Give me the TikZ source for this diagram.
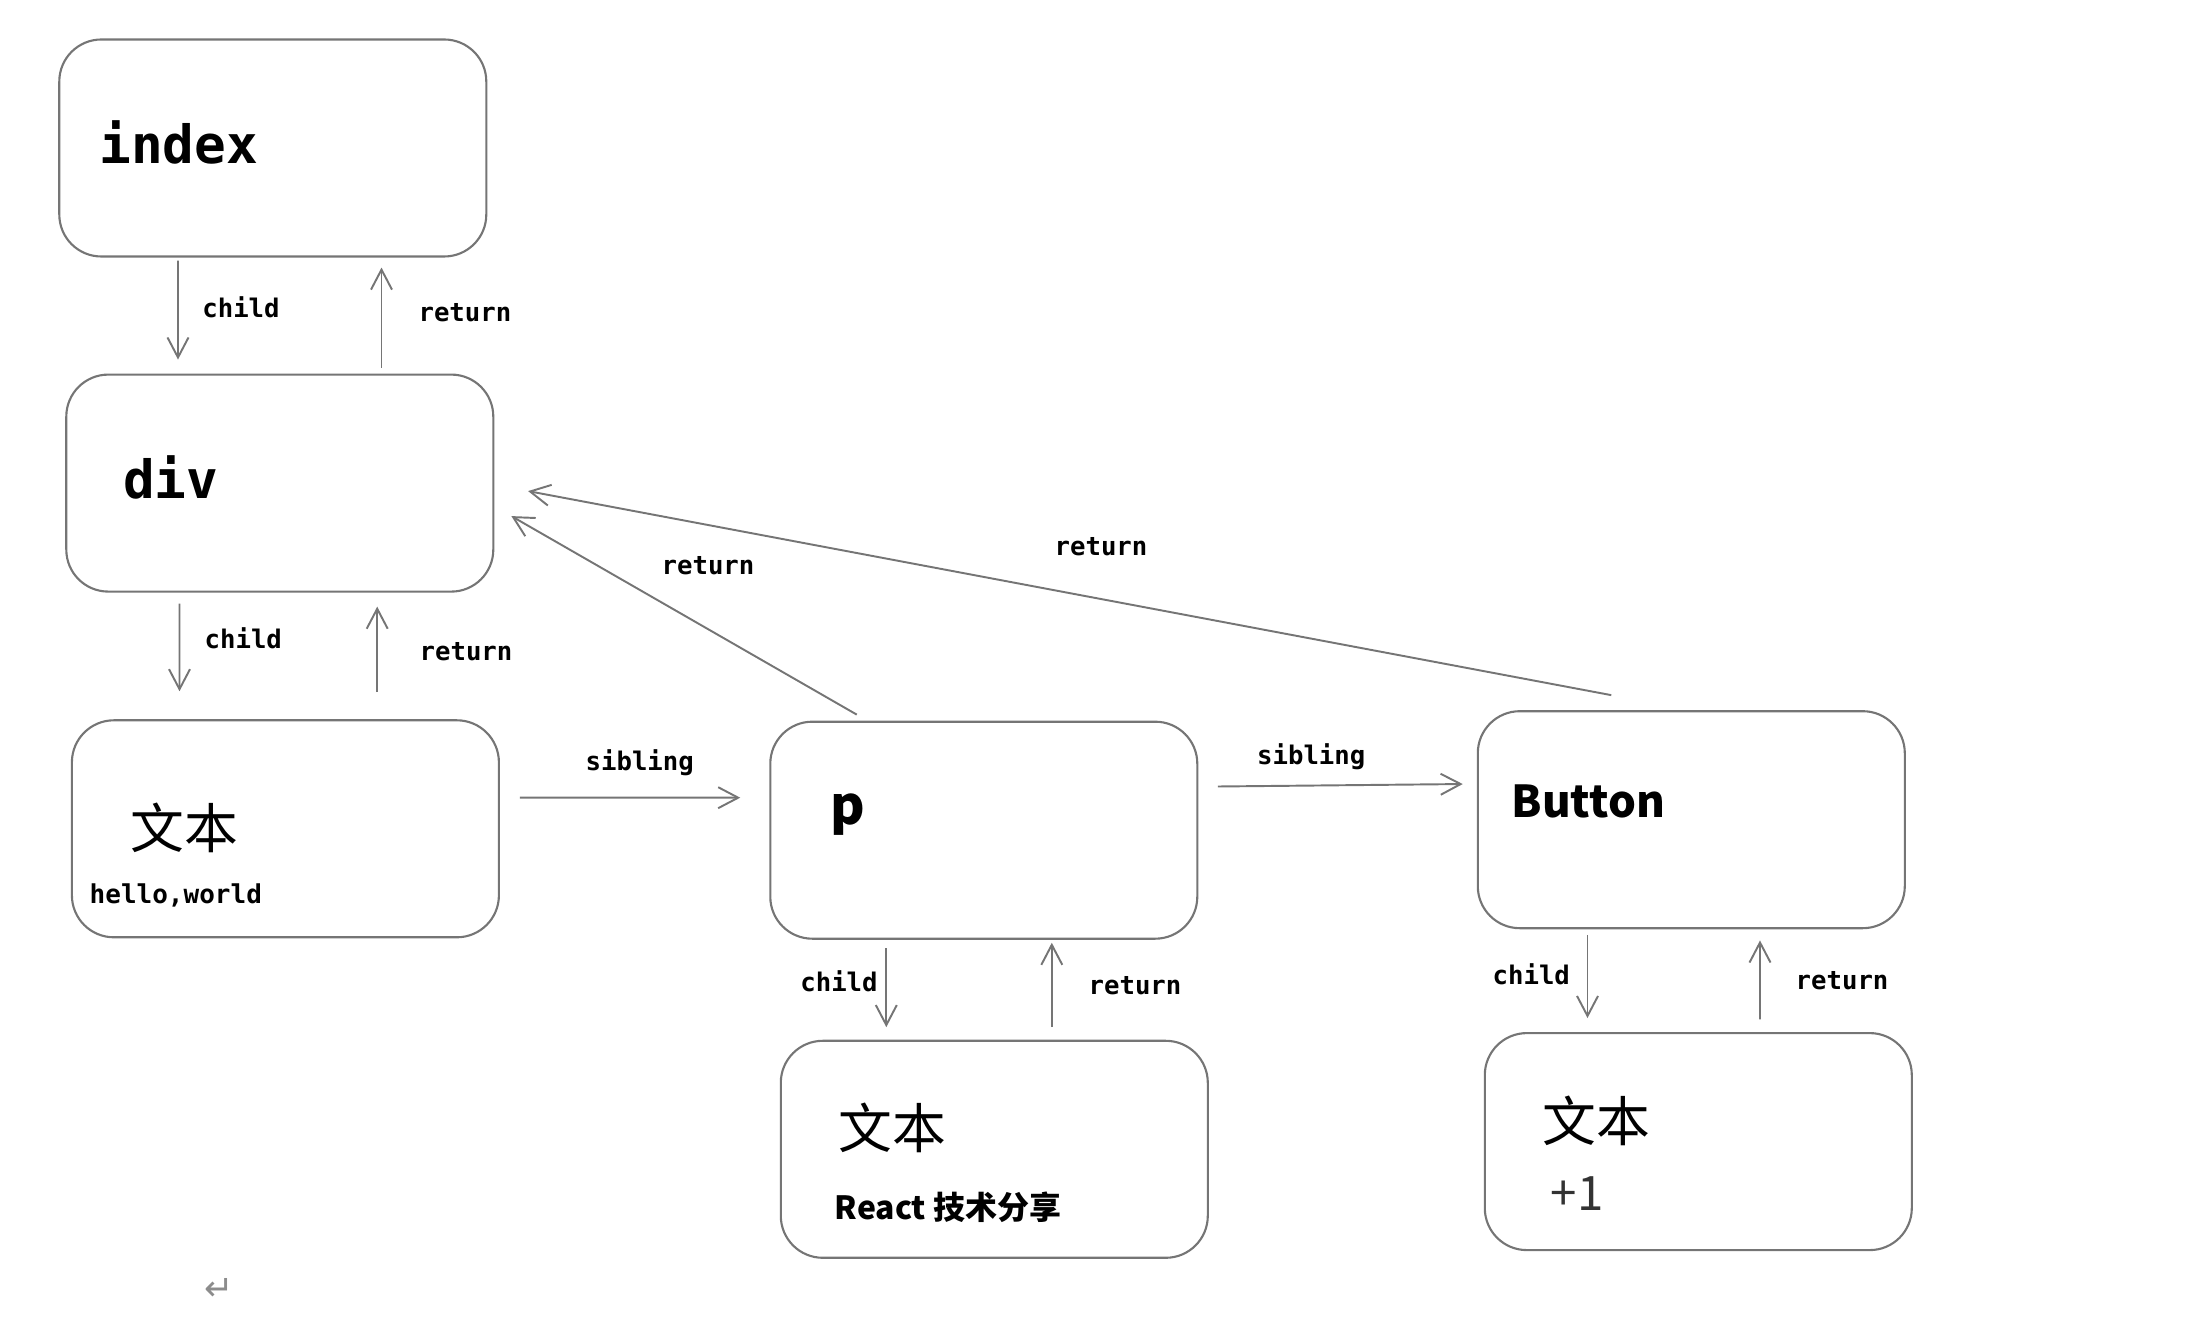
\documentclass[tikz,border=0pt]{standalone}
\usepackage{fontspec}
\usetikzlibrary{arrows.meta}
\newfontfamily\monofnt{DejaVu Sans Mono}
\newfontfamily\cjkfnt{Noto Sans CJK SC}
\newfontfamily\symfnt{DejaVu Sans}
\definecolor{edgegray}{HTML}{757575}

\begin{document}
\begin{tikzpicture}[
    fiber/.style={draw=edgegray, line width=0.6pt, rounded corners=0.42cm, minimum width=4.27cm, minimum height=2.17cm, inner sep=0pt},
    link/.style={draw=edgegray, line width=0.55pt, -{Straight Barb[length=2mm,width=2.1mm]}},
    lbl/.style={anchor=base west, inner sep=0pt, font=\monofnt\bfseries\fontsize{7.3}{8}\selectfont},
    tag/.style={anchor=base west, inner sep=0pt, font=\monofnt\bfseries\fontsize{15}{18}\selectfont},
    han/.style={anchor=west, inner sep=0pt, font=\cjkfnt\fontsize{15.3}{18}\selectfont}]
    \useasboundingbox (0,0) rectangle (21.99,-13.23);
    \node[fiber] (index) at (2.728,-1.480) {};
    \node[fiber] (div) at (2.798,-4.831) {};
    \node[fiber] (hello) at (2.854,-8.288) {};
    \node[fiber] (p) at (9.838,-8.302) {};
    \node[fiber] (button) at (16.913,-8.197) {};
    \node[fiber] (react) at (9.943,-11.493) {};
    \node[fiber] (plus) at (16.983,-11.416) {};
    \node[tag] (indextxt) at (0.987,-1.638) {index};
    \node[tag] (divtxt) at (1.225,-4.987) {div};
    \node[han] (hellohan) at (1.30,-8.28) {文本};
    \node[lbl, font=\monofnt\bfseries\fontsize{7.4}{8}\selectfont] (hellotxt) at (0.89,-9.035) {hello,world};
    \node[anchor=base west, inner sep=0pt, font=\cjkfnt\bfseries\fontsize{15}{18}\selectfont] (ptxt) at (8.30,-8.25) {p};
    \node[anchor=base west, inner sep=0pt, font=\cjkfnt\bfseries\fontsize{12.5}{15}\selectfont] (buttontxt) at (15.11,-8.18) {Button};
    \node[han] (reacthan) at (8.38,-11.28) {文本};
    \node[anchor=base west, inner sep=0pt, font=\cjkfnt\bfseries\fontsize{9.1}{12}\selectfont] (reacttxt) at (8.34,-12.197) {React 技术分享};
    \node[han] (plushan) at (15.42,-11.21) {文本};
    \node[anchor=base west, inner sep=0pt, text=black!80, font=\cjkfnt\fontsize{13.5}{16}\selectfont] (plustxt) at (15.50,-12.105) {+1};
    \draw[link, shorten <=0.03cm, shorten >=0.14cm] ([xshift=-0.948cm]index.south) -- ([xshift=-1.018cm]div.north);
    \draw[link, shorten <=0.06cm, shorten >=0.10cm] ([xshift=1.017cm]div.north) -- ([xshift=1.087cm]index.south);
    \draw[link, shorten <=0.11cm, shorten >=0.28cm] ([xshift=-1.003cm]div.south) -- ([xshift=-1.059cm]hello.north);
    \draw[link, shorten <=0.27cm, shorten >=0.14cm] ([xshift=0.918cm]hello.north) -- ([xshift=0.974cm]div.south);
    \draw[link, shorten <=0.20cm, shorten >=0.29cm] ([yshift=0.311cm]hello.east) -- ([yshift=0.325cm]p.west);
    \draw[link, shorten <=0.196cm, shorten >=0.14cm] ([yshift=0.435cm]p.east) -- ([yshift=0.358cm]button.west);
    \draw[link, shorten <=0.084cm, shorten >=0.126cm] ([xshift=-0.975cm]p.south) -- ([xshift=-1.08cm]react.north);
    \draw[link, shorten <=0.126cm, shorten >=0.03cm] ([xshift=0.575cm]react.north) -- ([xshift=0.68cm]p.south);
    \draw[link, shorten <=0.056cm, shorten >=0.14cm] ([xshift=-1.038cm]button.south) -- ([xshift=-1.108cm]plus.north);
    \draw[link, shorten <=0.127cm, shorten >=0.112cm] ([xshift=0.617cm]plus.north) -- ([xshift=0.687cm]button.south);
    \draw[link] ([xshift=-1.27cm,yshift=0.06cm]p.north) -- ([xshift=0.17cm,yshift=-0.33cm]div.east);
    \draw[link] ([xshift=-0.80cm,yshift=0.15cm]button.north) -- ([xshift=0.337cm,yshift=-0.08cm]div.east);
    \node[lbl] (child1) at (2.017,-3.179) {child};
    \node[lbl] (return1) at (4.179,-3.214) {return};
    \node[lbl] (child2) at (2.04,-6.487) {child};
    \node[lbl] (return2) at (4.19,-6.607) {return};
    \node[lbl] (sibling1) at (5.85,-7.71) {sibling};
    \node[lbl] (sibling2) at (12.565,-7.648) {sibling};
    \node[lbl] (child3) at (7.997,-9.92) {child};
    \node[lbl] (return3) at (10.88,-9.948) {return};
    \node[lbl] (child4) at (14.92,-9.849) {child};
    \node[lbl] (return4) at (17.95,-9.90) {return};
    \node[lbl] (return5) at (6.61,-5.75) {return};
    \node[lbl] (return6) at (10.54,-5.557) {return};
    \node[text=black!45, inner sep=0pt, font=\symfnt\fontsize{10}{11}\selectfont] (mark) at (2.19,-12.89) {↵};
\end{tikzpicture}
\end{document}
